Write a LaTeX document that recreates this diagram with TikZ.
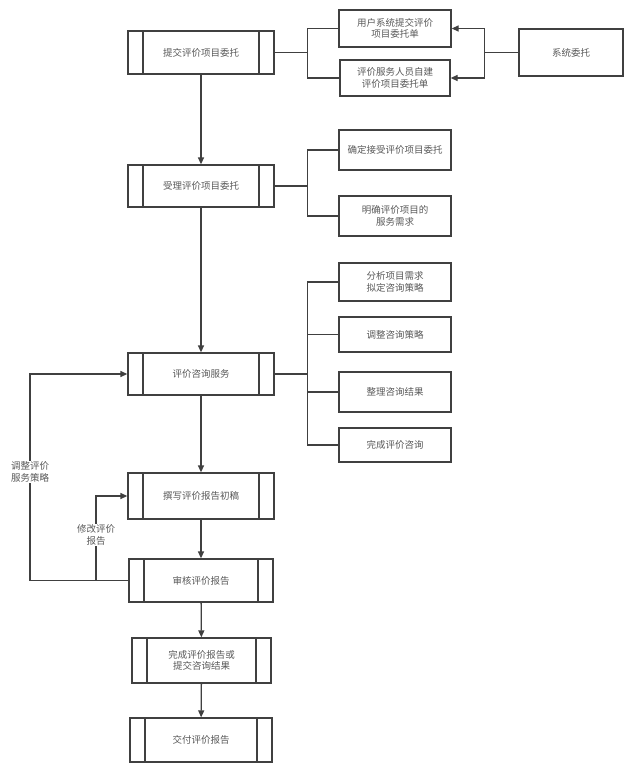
\documentclass[tikz,border=0pt]{standalone}
\usepackage{fontspec}
\setmainfont{Noto Sans CJK SC}
\usetikzlibrary{arrows.meta}
\definecolor{ln}{HTML}{404040}
\definecolor{tx}{HTML}{595959}
\begin{document}
\begin{tikzpicture}[x=1pt,y=-1pt,
  every node/.style={font=\fontsize{9.5}{11.5}\selectfont,text=tx,align=center,inner sep=1pt},
  box/.style={draw=ln,line width=1.3pt,minimum width=#1,fill=white},
  proc/.style={draw=ln,line width=1.3pt,fill=white,
    path picture={\draw[ln,line width=1.3pt]
      ([xshift=15pt]path picture bounding box.north west) -- ([xshift=15pt]path picture bounding box.south west)
      ([xshift=-15pt]path picture bounding box.north east) -- ([xshift=-15pt]path picture bounding box.south east);}},
  con/.style={draw=ln,line width=1.3pt},
  arr/.style={con,-{Triangle[length=7pt,width=6pt]}},
  lbl/.style={fill=white,inner sep=1pt}
]
\useasboundingbox[fill=white] (0,0) rectangle (627,771);

% main process boxes
\node[proc,minimum width=146pt,minimum height=43pt] (p1) at (201,52.5) {提交评价项目委托};
\node[proc,minimum width=146pt,minimum height=42pt] (p2) at (201,186) {受理评价项目委托};
\node[proc,minimum width=146pt,minimum height=42pt] (p3) at (201,374) {评价咨询服务};
\node[proc,minimum width=146pt,minimum height=46pt] (p4) at (201,496) {撰写评价报告初稿};
\node[proc,minimum width=144pt,minimum height=43pt] (p5) at (201,580.5) {审核评价报告};
\node[proc,minimum width=139pt,minimum height=45pt] (p6) at (201.5,660.5) {完成评价报告或\\提交咨询结果};
\node[proc,minimum width=142pt,minimum height=44pt] (p7) at (201,740) {交付评价报告};

% right boxes
\node[box=112pt,minimum height=37pt] (r1) at (395,28.5) {用户系统提交评价\\项目委托单};
\node[box=110pt,minimum height=36pt] (r2) at (395,78) {评价服务人员自建\\评价项目委托单};
\node[box=104pt,minimum height=47pt] (s) at (571,52.5) {系统委托};
\node[box=112pt,minimum height=40pt] (r3) at (395,150) {确定接受评价项目委托};
\node[box=112pt,minimum height=40pt] (r4) at (395,216) {明确评价项目的\\服务需求};
\node[box=112pt,minimum height=38pt] (r5) at (395,282) {分析项目需求\\拟定咨询策略};
\node[box=112pt,minimum height=35pt] (r6) at (395,334.5) {调整咨询策略};
\node[box=112pt,minimum height=40pt] (r7) at (395,392) {整理咨询结果};
\node[box=112pt,minimum height=34pt] (r8) at (395,445) {完成评价咨询};

% main flow
\draw[arr] (p1) -- (p2);
\draw[arr] (p2) -- (p3);
\draw[arr] (p3) -- (p4);
\draw[arr] (p4) -- (p5);
\draw[arr] (p5) -- (p6);
\draw[arr] (p6) -- (p7);

% branches
\draw[con] (p1.east) -- ++(33,0) |- (r1.west);
\draw[con] (p1.east) -- ++(33,0) |- (r2.west);
\draw[arr] (s.west) -- ++(-34,0) |- (r1.east);
\draw[arr] (s.west) -- ++(-34,0) |- (r2.east);
\draw[con] (p2.east) -- ++(33,0) |- (r3.west);
\draw[con] (p2.east) -- ++(33,0) |- (r4.west);
\draw[con] (p3.east) -- ++(33,0) |- (r5.west);
\draw[con] (p3.east) -- ++(33,0) |- (r6.west);
\draw[con] (p3.east) -- ++(33,0) |- (r7.west);
\draw[con] (p3.east) -- ++(33,0) |- (r8.west);

% feedback loops
\coordinate (fb1) at (30,580.5);
\coordinate (fb2) at (96,580.5);
\draw[arr] (p5.west) -- (fb1) |- (p3.west);
\draw[arr] (fb2) |- (p4.west);
\node[lbl] (l1) at (30,472) {调整评价\\服务策略};
\node[lbl] (l2) at (96,535) {修改评价\\报告};
\end{tikzpicture}
\end{document}
